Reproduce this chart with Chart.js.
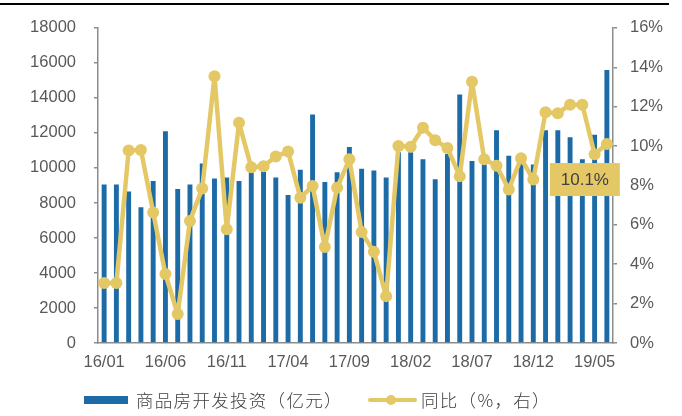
<!DOCTYPE html>
<html>
<head>
<meta charset="utf-8">
<script src="https://cdn.jsdelivr.net/npm/chart.js@4.4.1/dist/chart.umd.min.js"></script>
<style>
  html, body { margin: 0; padding: 0; background: #fff; }
  #wrap { position: relative; width: 682px; height: 416px; overflow: hidden; }
  #topline { position: absolute; left: 0; top: 3px; width: 669px; height: 2px; background: #000; }
  canvas { position: absolute; left: 0; top: 0; }
  .leg { position: absolute; top: 387px; height: 26px; line-height: 26px; font-family: "Noto Sans CJK SC", "Noto Sans", sans-serif; font-weight: 300; font-size: 17.5px; letter-spacing: 1.3px; color: #404040; white-space: nowrap; }
  #legBarBox { position: absolute; left: 84px; top: 396px; width: 44px; height: 8px; background: #1C6BA6; }
  #legLine { position: absolute; left: 368px; top: 398px; width: 49px; height: 4px; background: #E5C866; border-radius: 2px; }
  #legDot { position: absolute; left: 386px; top: 395px; width: 10px; height: 10px; background: #E5C866; border-radius: 50%; }
</style>
</head>
<body>
<div id="wrap">
  <canvas id="c" width="682" height="416"></canvas>
  <div id="topline"></div>
  <div id="legBarBox"></div>
  <div class="leg" style="left:136px;">商品房开发投资（亿元）</div>
  <div id="legLine"></div>
  <div id="legDot"></div>
  <div class="leg" style="left:421px;">同比（%，右）</div>
</div>
<script>
const categories = [
  '16/01','16/02','16/03','16/04','16/05','16/06','16/07','16/08','16/09','16/10','16/11','16/12',
  '17/01','17/02','17/03','17/04','17/05','17/06','17/07','17/08','17/09','17/10','17/11','17/12',
  '18/01','18/02','18/03','18/04','18/05','18/06','18/07','18/08','18/09','18/10','18/11','18/12',
  '19/01','19/02','19/03','19/04','19/05','19/06'
];
const investment = [
  9050, 9050, 8650, 7750, 9250, 12100, 8800, 9050, 10250, 9400, 9450, 9250,
  9800, 9800, 9450, 8450, 9900, 13050, 9200, 9750, 11200, 9950, 9850, 9450,
  10900, 10900, 10500, 9350, 10800, 14200, 10400, 10300, 12150, 10700, 10300, 10200,
  12150, 12150, 11750, 10500, 11900, 15600
];
const yoy = [
  3.05, 3.05, 9.77, 9.8, 6.63, 3.5, 1.47, 6.2, 7.85, 13.55, 5.77, 11.18,
  8.92, 8.97, 9.47, 9.72, 7.38, 7.97, 4.88, 7.88, 9.33, 5.63, 4.63, 2.38,
  10.0, 9.97, 10.93, 10.3, 9.9, 8.47, 13.27, 9.33, 9.0, 7.8, 9.38, 8.3,
  11.72, 11.67, 12.1, 12.1, 9.58, 10.1
];
const leftTicks = { min: 0, max: 18000, step: 2000 };
const rightTicks = { min: 0, max: 16, step: 2 };
const calloutText = '10.1%';

const BLUE = '#1C6BA6';
const GOLD = '#E5C866';
const TICK_COLOR = '#595959';
const AXIS_COLOR = '#8C8C8C';
const tickFont = { family: '"Liberation Sans", Arial, sans-serif', size: 16.5 };

const callout = {
  id: 'callout',
  afterDatasetsDraw(chart) {
    const { ctx, scales } = chart;
    const lastIdx = yoy.length - 1;
    const cx = scales.x.getPixelForValue(lastIdx) - 22;
    const cy = scales.y1.getPixelForValue(8.3);
    const w = 70, h = 33;
    ctx.save();
    ctx.fillStyle = GOLD;
    ctx.fillRect(cx - w / 2, cy - h / 2, w, h);
    ctx.fillStyle = '#404040';
    ctx.font = '17px "Liberation Sans", Arial, sans-serif';
    ctx.textAlign = 'center';
    ctx.textBaseline = 'middle';
    ctx.fillText(calloutText, cx, cy + 1);
    ctx.restore();
  }
};

new Chart(document.getElementById('c'), {
  data: {
    labels: categories,
    datasets: [
      {
        type: 'line',
        label: '同比（%，右）',
        data: yoy,
        yAxisID: 'y1',
        borderColor: GOLD,
        backgroundColor: GOLD,
        borderWidth: 4.5,
        borderJoinStyle: 'round',
        borderCapStyle: 'round',
        pointRadius: 6,
        pointBackgroundColor: GOLD,
        pointBorderWidth: 0,
        tension: 0,
        order: 0
      },
      {
        type: 'bar',
        label: '商品房开发投资（亿元）',
        data: investment,
        yAxisID: 'y',
        backgroundColor: BLUE,
        barPercentage: 0.4,
        categoryPercentage: 1.0,
        order: 1
      }
    ]
  },
  options: {
    responsive: false,
    animation: false,
    devicePixelRatio: 1,
    layout: { padding: { top: 23, left: 0, right: 0, bottom: 0 } },
    plugins: { legend: { display: false }, tooltip: { enabled: false } },
    scales: {
      x: {
        grid: { display: false, drawTicks: false },
        border: { display: true, color: AXIS_COLOR, width: 1.5 },
        ticks: {
          autoSkip: false,
          maxRotation: 0,
          minRotation: 0,
          padding: 10,
          color: TICK_COLOR,
          font: tickFont,
          callback: (v, i) => (i % 5 === 0 ? categories[i] : '')
        },
        afterFit: (s) => { s.height = 73; }
      },
      y: {
        position: 'left',
        min: leftTicks.min,
        max: leftTicks.max,
        grid: { drawOnChartArea: false, drawTicks: true, tickLength: 4, color: AXIS_COLOR, lineWidth: 1.5 },
        border: { display: true, color: AXIS_COLOR, width: 1.5 },
        ticks: { stepSize: leftTicks.step, padding: 18, color: TICK_COLOR, font: tickFont, callback: (v) => String(v) },
        afterFit: (s) => { s.width = 98; }
      },
      y1: {
        position: 'right',
        min: rightTicks.min,
        max: rightTicks.max,
        grid: { drawOnChartArea: false, drawTicks: true, tickLength: 4, color: AXIS_COLOR, lineWidth: 1.5 },
        border: { display: true, color: AXIS_COLOR, width: 1.5 },
        ticks: { stepSize: rightTicks.step, padding: 13, color: TICK_COLOR, font: tickFont, callback: (v) => v + '%' },
        afterFit: (s) => { s.width = 69; }
      }
    }
  },
  plugins: [callout]
});
</script>
</body>
</html>
